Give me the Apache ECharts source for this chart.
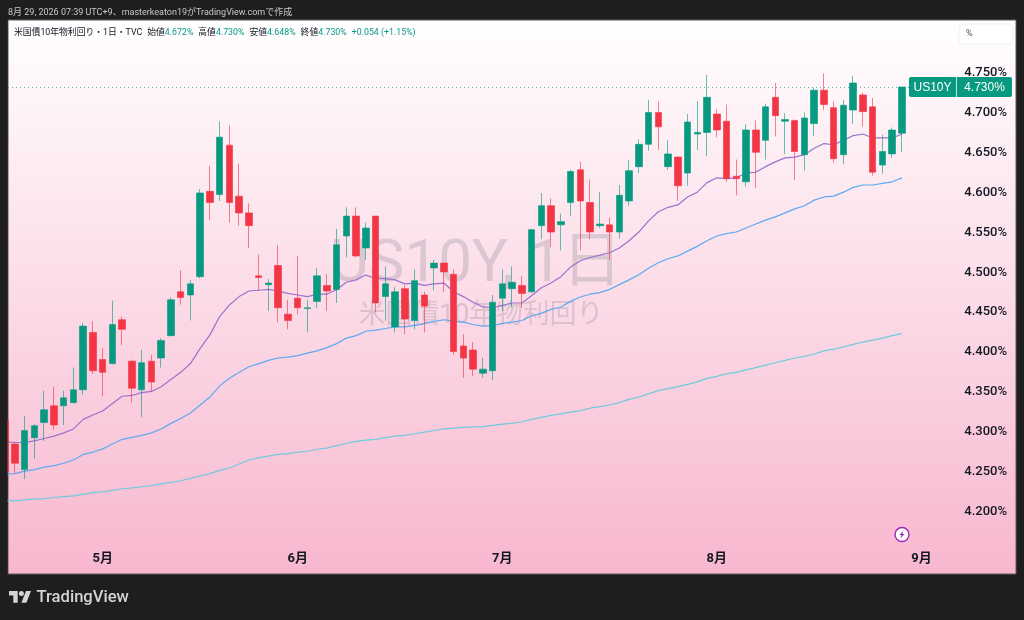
<!DOCTYPE html>
<html><head><meta charset="utf-8">
<style>html,body{margin:0;padding:0;background:#1e1e1e}#c{width:1024px;height:620px}</style>
<script src="https://cdn.jsdelivr.net/npm/echarts@6/dist/echarts.min.js"></script>
</head><body><div id="c"></div>
<script>
// [open, close, low, high]
const ohlc = [
[4.312,4.247,4.246,4.316],[4.282,4.258,4.245,4.283],[4.250,4.299,4.238,4.317],[4.290,4.305,4.264,4.307],[4.309,4.325,4.286,4.349],
[4.330,4.306,4.300,4.354],[4.330,4.340,4.306,4.349],[4.334,4.350,4.333,4.378],[4.350,4.430,4.344,4.434],[4.422,4.374,4.370,4.436],
[4.388,4.372,4.342,4.402],[4.383,4.432,4.382,4.462],[4.438,4.426,4.406,4.442],[4.386,4.352,4.334,4.388],[4.350,4.384,4.316,4.400],
[4.386,4.360,4.347,4.394],[4.390,4.412,4.378,4.415],[4.418,4.463,4.417,4.466],[4.473,4.466,4.457,4.500],[4.469,4.483,4.437,4.488],
[4.492,4.597,4.490,4.602],[4.599,4.585,4.563,4.631],[4.595,4.667,4.587,4.687],[4.657,4.585,4.560,4.682],[4.593,4.572,4.556,4.634],
[4.572,4.556,4.528,4.584],[4.493,4.491,4.475,4.520],[4.482,4.484,4.449,4.489],[4.506,4.453,4.435,4.532],[4.445,4.437,4.426,4.463],
[4.465,4.453,4.445,4.518],[4.452,4.453,4.422,4.463],[4.461,4.493,4.453,4.503],[4.481,4.474,4.449,4.495],[4.476,4.532,4.459,4.552],
[4.543,4.568,4.516,4.579],[4.568,4.518,4.516,4.579],[4.528,4.553,4.513,4.560],[4.568,4.459,4.447,4.568],[4.467,4.483,4.437,4.505],
[4.429,4.473,4.422,4.479],[4.477,4.439,4.420,4.481],[4.437,4.487,4.426,4.501],[4.469,4.455,4.422,4.473],[4.503,4.509,4.475,4.513],
[4.509,4.498,4.473,4.510],[4.495,4.398,4.394,4.501],[4.405,4.390,4.365,4.420],[4.400,4.376,4.367,4.410],[4.371,4.376,4.365,4.390],
[4.374,4.460,4.362,4.469],[4.465,4.483,4.449,4.501],[4.477,4.485,4.453,4.505],[4.481,4.471,4.453,4.493],[4.473,4.551,4.472,4.552],
[4.556,4.581,4.539,4.597],[4.581,4.548,4.529,4.590],[4.557,4.561,4.525,4.571],[4.585,4.624,4.568,4.626],[4.626,4.587,4.525,4.636],
[4.585,4.548,4.539,4.614],[4.556,4.558,4.553,4.598],[4.557,4.548,4.513,4.566],[4.548,4.594,4.540,4.607],[4.587,4.625,4.581,4.638],
[4.630,4.658,4.622,4.664],[4.658,4.698,4.650,4.714],[4.698,4.680,4.651,4.712],[4.630,4.646,4.626,4.663],[4.642,4.606,4.587,4.643],
[4.622,4.686,4.606,4.696],[4.671,4.673,4.651,4.712],[4.673,4.717,4.643,4.745],[4.696,4.676,4.667,4.702],[4.687,4.615,4.611,4.708],
[4.618,4.615,4.594,4.639],[4.611,4.676,4.605,4.683],[4.676,4.648,4.603,4.688],[4.663,4.705,4.639,4.709],[4.717,4.694,4.668,4.735],
[4.687,4.689,4.646,4.697],[4.688,4.649,4.613,4.689],[4.645,4.691,4.625,4.698],[4.684,4.726,4.668,4.729],[4.726,4.708,4.701,4.747],
[4.704,4.640,4.635,4.712],[4.645,4.707,4.633,4.714],[4.701,4.735,4.684,4.744],[4.720,4.699,4.680,4.723],[4.705,4.623,4.619,4.716],
[4.632,4.649,4.621,4.670],[4.646,4.676,4.641,4.679],[4.672,4.730,4.648,4.730]];
const maPurple = [4.285,4.284,4.284,4.286,4.289,4.292,4.296,4.301,4.313,4.3185,4.3235,4.333,4.342,4.343,4.3465,4.348,4.354,4.363,4.372,4.383,4.402,4.419,4.442,4.4565,4.467,4.474,4.475,4.476,4.474,4.471,4.469,4.467,4.470,4.470,4.476,4.485,4.488,4.494,4.490,4.4895,4.488,4.483,4.484,4.481,4.483,4.484,4.473,4.467,4.460,4.454,4.453,4.456,4.459,4.459,4.468,4.478,4.484,4.492,4.504,4.512,4.516,4.519,4.522,4.528,4.537,4.548,4.562,4.5735,4.579,4.582,4.592,4.598,4.610,4.616,4.615,4.616,4.622,4.623,4.630,4.636,4.641,4.642,4.645,4.653,4.659,4.6575,4.663,4.669,4.671,4.666,4.666,4.666,4.671];
const maBlue = [4.2445,4.245,4.248,4.250,4.253,4.255,4.258,4.262,4.269,4.272,4.276,4.282,4.288,4.2905,4.293,4.296,4.301,4.308,4.314,4.321,4.331,4.341,4.355,4.3645,4.372,4.379,4.383,4.387,4.390,4.391,4.393,4.396,4.399,4.403,4.408,4.415,4.418,4.4235,4.425,4.427,4.429,4.429,4.431,4.433,4.436,4.438,4.436,4.435,4.432,4.430,4.4305,4.4335,4.435,4.437,4.443,4.446,4.451,4.454,4.461,4.4665,4.470,4.472,4.476,4.482,4.488,4.4945,4.5025,4.5095,4.5145,4.518,4.524,4.530,4.537,4.543,4.546,4.548,4.553,4.558,4.563,4.567,4.572,4.577,4.581,4.588,4.592,4.593,4.598,4.604,4.607,4.607,4.609,4.611,4.616];
const maCyan = [4.211,4.211,4.212,4.213,4.2135,4.215,4.216,4.217,4.219,4.221,4.222,4.224,4.226,4.227,4.2285,4.230,4.232,4.234,4.236,4.239,4.242,4.245,4.249,4.252,4.257,4.262,4.265,4.267,4.269,4.270,4.272,4.273,4.2755,4.277,4.280,4.283,4.2855,4.287,4.288,4.290,4.292,4.293,4.295,4.297,4.299,4.301,4.302,4.303,4.3035,4.304,4.3055,4.307,4.308,4.310,4.313,4.3155,4.318,4.320,4.322,4.324,4.327,4.329,4.331,4.334,4.338,4.341,4.345,4.349,4.3515,4.354,4.357,4.360,4.3645,4.367,4.370,4.372,4.375,4.378,4.381,4.384,4.387,4.390,4.392,4.395,4.399,4.401,4.404,4.407,4.410,4.4125,4.415,4.418,4.4205];
const priceTicks = [4.2,4.25,4.3,4.35,4.4,4.45,4.5,4.55,4.6,4.65,4.7,4.75];
const monthTicks = [10,30,51,73,94];
const monthLabels = ['5月','6月','7月','8月','9月'];
const lastPrice = 4.730;
const headerText = '8月 29, 2026 07:39 UTC+9、masterkeaton19がTradingView.comで作成';
const symbolName = 'US10Y';
const latin = 'Roboto, "Noto Sans CJK JP", sans-serif';
const UP = '#089981', DOWN = '#F23645';
const pair = a => a.map((v, i) => [i, v]);
const line = (name, data, color) => ({name, type:'line', data:pair(data), showSymbol:false, silent:true, z:3,
  lineStyle:{color, width:1.2}, itemStyle:{color}});

const chart = echarts.init(document.getElementById('c'), null, {renderer:'canvas'});
chart.setOption({
  animation:false,
  backgroundColor:'#1e1e1e',
  grid:{left:8, top:20, width:1008, height:554, show:true, borderWidth:1, borderColor:'#5e5e60',
    backgroundColor:new echarts.graphic.LinearGradient(0,0,0,1,[{offset:0,color:'#ffffff'},{offset:1,color:'#f8b7cf'}])},
  xAxis:{type:'value', min:0.282, max:103.70, splitLine:{show:false}, axisLine:{show:false}, axisTick:{show:false},
    axisLabel:{inside:true, margin:9, customValues:monthTicks, color:'#131722', fontWeight:'bold', fontSize:13, fontFamily:latin,
      formatter:v=>monthLabels[monthTicks.indexOf(v)]}},
  yAxis:{type:'value', position:'right', min:4.11903, max:4.81397, splitLine:{show:false}, axisLine:{show:false}, axisTick:{show:false},
    axisLabel:{inside:true, margin:9, customValues:priceTicks,
      formatter:v=>'{p|'+v.toFixed(3)+'%}',
      rich:{p:{color:'#131722', fontSize:13, fontWeight:500, fontFamily:latin, padding:[4,0,0,0]}}}},
  graphic:[
    {type:'rect', z:15, silent:true, shape:{x:0,y:20,width:7.5,height:555}, style:{fill:'#1e1e1e'}},
    {type:'text', z:1, silent:true, x:476, y:266, style:{text:symbolName+', 1日', font:'60px '+latin, fill:'rgba(120,123,134,0.25)', textAlign:'center', textVerticalAlign:'middle'}},
    {type:'text', z:1, silent:true, x:481, y:316, style:{text:'米国債10年物利回り', font:'26.8px '+latin, fill:'rgba(120,123,134,0.25)', textAlign:'center', textVerticalAlign:'middle'}},
    {type:'text', z:20, silent:true, x:8, y:12.7, style:{text:headerText, font:'9px '+latin, fill:'#c8c8c8', textVerticalAlign:'middle'}},
    {type:'text', z:20, silent:true, x:14, y:33, style:{
      text:'{k|米国債10年物利回り・1日・TVC}{s| }{k|始値}{v|4.672%}{s| }{k|高値}{v|4.730%}{s| }{k|安値}{v|4.648%}{s| }{k|終値}{v|4.730%}{s| }{v|+0.054 (+1.15%)}',
      verticalAlign:'middle',
      rich:{k:{font:'8.8px '+latin, fill:'#131722'}, v:{font:'8.8px '+latin, fill:UP}, s:{font:'8.8px '+latin, width:5}}}},
    {type:'rect', z:20, silent:true, shape:{x:959,y:24,width:54,height:20,r:4}, style:{fill:'#ffffff', stroke:'#f3eef0', lineWidth:1}},
    {type:'text', z:21, silent:true, x:966, y:33.5, style:{text:'%', font:'9px '+latin, fill:'#50535e', textVerticalAlign:'middle'}},
    {type:'polygon', z:20, silent:true, shape:{points:[[9,591],[17.7,591],[17.7,602.7],[13.3,602.7],[13.3,595.6],[9,595.6]]}, style:{fill:'#d4d4d4'}},
    {type:'polygon', z:20, silent:true, shape:{points:[[26.4,602.7],[21.4,602.7],[26,591],[31,591]]}, style:{fill:'#d4d4d4'}},
    {type:'circle', z:20, silent:true, shape:{cx:21.4,cy:593.6,r:2.5}, style:{fill:'#d4d4d4'}},
    {type:'text', z:20, silent:true, x:36.5, y:597.5, style:{text:'TradingView', font:'500 16.6px '+latin, fill:'#d4d4d4', textVerticalAlign:'middle'}},
    {type:'circle', z:20, silent:true, shape:{cx:902,cy:534.5,r:7}, style:{fill:'#ffffff', stroke:'#9c27b0', lineWidth:1.4}},
    {type:'polygon', z:21, silent:true, shape:{points:[[903.5,530.5],[899.5,535],[901.7,535],[900.5,538.5],[904.5,534],[902.3,534]]}, style:{fill:'#9c27b0'}}
  ],
  series:[
    line('MA200', maCyan, '#6fcbdc'),
    line('MA50', maBlue, '#5da9f2'),
    line('MA20', maPurple, '#9b72cf'),
    {name:symbolName, type:'candlestick', z:4, barWidth:7, silent:true,
      data:ohlc.map((d,i)=>[i,d[0],d[1],d[2],d[3]]), encode:{x:0,y:[1,2,3,4]},
      itemStyle:{color:UP, color0:DOWN, borderColor:'rgba(8,153,129,0.62)', borderColor0:'rgba(242,54,69,0.62)', borderWidth:1},
      markLine:{silent:true, symbol:'none', animation:false,
        lineStyle:{color:'rgba(8,153,129,0.7)', type:[1,3], width:1},
        label:{show:true, position:'end', distance:0, formatter:'{a|'+symbolName+'}{g|}{b|'+lastPrice.toFixed(3)+'%}',
          rich:{a:{backgroundColor:UP,color:'#fff',font:'500 13.5px '+latin,width:47,height:19,padding:[1,0,0,0],align:'center',lineHeight:19,borderRadius:[2,0,0,2]},
                g:{backgroundColor:'#bfe3dc',width:1,height:20},
                b:{backgroundColor:UP,color:'#fff',font:'500 13.5px '+latin,width:55,height:19,padding:[1,0,0,0],align:'center',lineHeight:19,borderRadius:[0,2,2,0]}}},
        data:[[{coord:[0.282,lastPrice]},{coord:[92.72,lastPrice]}]]}}
  ]
});
</script></body></html>
